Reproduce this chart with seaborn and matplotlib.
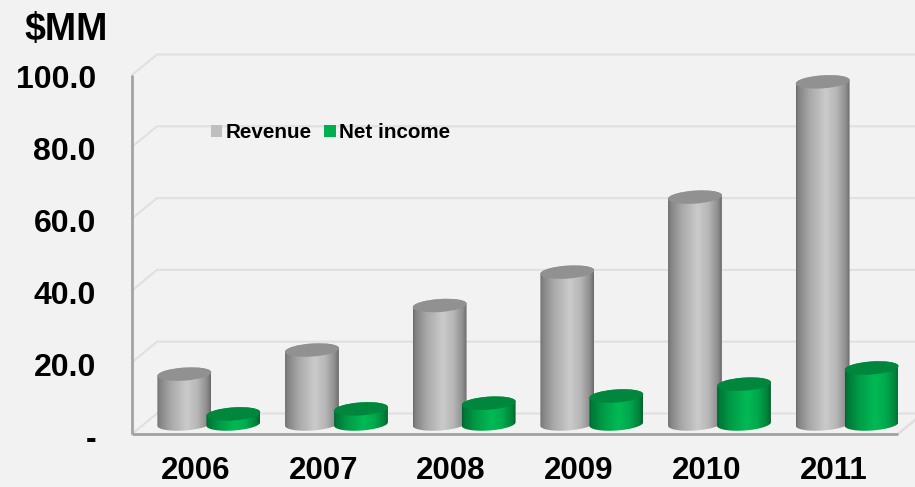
from __future__ import annotations

import matplotlib

matplotlib.use("Agg")
import matplotlib.pyplot as plt
import numpy as np
import pandas as pd
import seaborn as sns
from matplotlib.colors import LinearSegmentedColormap, to_rgb
from matplotlib.patches import Ellipse, PathPatch
from matplotlib.path import Path
from matplotlib.transforms import IdentityTransform, ScaledTranslation

years = ["2006", "2007", "2008", "2009", "2010", "2011"]
revenue = [13.9, 20.6, 33.0, 42.3, 63.2, 95.3]
net_income = [2.8, 4.2, 5.8, 7.8, 11.1, 15.6]
y_ticks = [0, 20, 40, 60, 80, 100]
y_tick_labels = ["-", "20.0", "40.0", "60.0", "80.0", "100.0"]

BG = "#F2F2F2"
GRID = "#E0E0E0"
AXIS = "#A3A3A3"
FONT = ["Liberation Sans", "DejaVu Sans"]
W, H = 915, 487
# depth of the fake 3d box, pixels
BACK_DX, BACK_DY = 25, 20.5
BAR_DX, BAR_DY = 13, 10
RY = 6.5
TILT = np.deg2rad(4)


def ellipse_point(cx: float, cy: float, rx: float, t: np.ndarray) -> np.ndarray:
    x = rx * np.cos(t)
    y = RY * np.sin(t)
    return np.column_stack(
        [cx + x * np.cos(TILT) - y * np.sin(TILT), cy + x * np.sin(TILT) + y * np.cos(TILT)]
    )


def draw_cylinder(ax: plt.Axes, bar, zorder: int) -> None:
    color = np.array(to_rgb(bar.get_facecolor()))
    x0, y0 = ax.transData.transform((bar.get_x(), bar.get_y()))
    x1, y1 = ax.transData.transform((bar.get_x() + bar.get_width(), bar.get_y() + bar.get_height()))
    cx = (x0 + x1) / 2 + BAR_DX
    rx = (x1 - x0) * 1.1 / 2
    base, top = y0 + BAR_DY, y1 + BAR_DY

    # body outline: lower half of base ellipse plus upper half of top ellipse
    low = ellipse_point(cx, base, rx, np.linspace(np.pi, 2 * np.pi, 50))
    high = ellipse_point(cx, top, rx, np.linspace(0, np.pi, 50))
    clip = PathPatch(Path(np.vstack([low, high, low[:1]])), transform=IdentityTransform())

    stops = [(0.0, 0.56), (0.04, 0.68), (0.25, 0.88), (0.55, 1.06), (0.75, 0.96), (0.93, 0.74), (1.0, 0.56)]
    cmap = LinearSegmentedColormap.from_list(
        "shade", [(p, tuple(np.clip(color * f, 0, 1))) for p, f in stops]
    )
    image = ax.imshow(
        np.linspace(0, 1, 128).reshape(1, -1),
        cmap=cmap,
        extent=(cx - rx, cx + rx, base - RY - 4, top + RY + 4),
        aspect="auto",
        transform=IdentityTransform(),
        zorder=zorder,
    )
    image.set_clip_path(clip)
    cap = Ellipse(
        (cx, top),
        2 * rx,
        2 * RY,
        angle=np.rad2deg(TILT),
        facecolor=np.clip(color * 0.76, 0, 1),
        edgecolor="none",
        transform=IdentityTransform(),
        zorder=zorder + 0.5,
        clip_on=False,
    )
    ax.add_patch(cap)


sns.set_theme(style="white")
plt.rcParams["font.family"] = FONT
plt.rcParams["font.weight"] = "bold"

df = pd.DataFrame(
    {
        "year": years * 2,
        "value": revenue + net_income,
        "series": ["Revenue"] * len(years) + ["Net income"] * len(years),
    }
)

fig = plt.figure(figsize=(W / 100, H / 100), dpi=100, facecolor=BG)
ax = fig.add_axes([132 / W, (H - 434) / H, (898 - 132) / W, (434 - 75) / H], facecolor=BG)
sns.barplot(
    data=df,
    x="year",
    y="value",
    hue="series",
    palette=["#BFBFBF", "#00B050"],
    width=0.768,
    gap=0,
    errorbar=None,
    ax=ax,
    saturation=1,
)
ax.set_xlim(-0.5, len(years) - 0.5)
ax.set_ylim(0, 100)
ax.set_xlabel("")
ax.set_ylabel("")
ax.set_yticks(y_ticks, y_tick_labels)
ax.tick_params(axis="y", length=0, labelsize=23, pad=26, labelcolor="black")
ax.tick_params(axis="x", length=0, labelsize=22.5, pad=16, labelcolor="black")
# labels sit a touch under their grid value in the original
for label in ax.get_yticklabels():
    label.set_transform(label.get_transform() + ScaledTranslation(0, -0.02, fig.dpi_scale_trans))
for side in ("top", "right"):
    ax.spines[side].set_visible(False)
for side in ("left", "bottom"):
    ax.spines[side].set_color(AXIS)
    ax.spines[side].set_linewidth(2)
    ax.spines[side].set_capstyle("butt")
    ax.spines[side].set_zorder(3)

# back wall grid and the slanted lines on the side wall
right_px = ax.transAxes.transform((1, 0))[0]
left_px = ax.transAxes.transform((0, 0))[0]
for tick in y_ticks:
    y_px = ax.transData.transform((0, tick))[1]
    ax.plot(
        [left_px, left_px + BACK_DX, right_px + BACK_DX],
        [y_px, y_px + BACK_DY, y_px + BACK_DY],
        color=GRID,
        lw=1.5,
        transform=IdentityTransform(),
        zorder=1,
        clip_on=False,
    )
base_px = ax.transData.transform((0, 0))[1]
ax.plot(
    [right_px, right_px + BACK_DX],
    [base_px, base_px + BACK_DY],
    color=GRID,
    lw=2,
    transform=IdentityTransform(),
    zorder=1,
    clip_on=False,
)

sns.move_legend(
    ax,
    "center left",
    bbox_to_anchor=(211 / W, (H - 133) / H),
    bbox_transform=fig.transFigure,
    ncol=2,
    frameon=False,
    title=None,
    fontsize=14.9,
    handlelength=0.55,
    handleheight=0.55,
    handletextpad=0.14,
    columnspacing=0.62,
    borderpad=0,
    borderaxespad=0,
    labelcolor="black",
)
for handle in ax.get_legend().get_patches():
    handle.set_edgecolor("none")

bars = list(ax.patches)
bars = [b for b in bars if b.get_height() > 0]
order = sorted(bars, key=lambda b: b.get_x())
for i, bar in enumerate(order):
    draw_cylinder(ax, bar, 4 + i)
    bar.set_visible(False)
ax.set_xlim(-0.5, len(years) - 0.5)
ax.set_ylim(0, 100)

fig.text(66 / W, (H - 40) / H, "$MM", ha="center", va="baseline", fontsize=27, color="black")

fig.savefig("out.png", dpi=100, facecolor=BG)
